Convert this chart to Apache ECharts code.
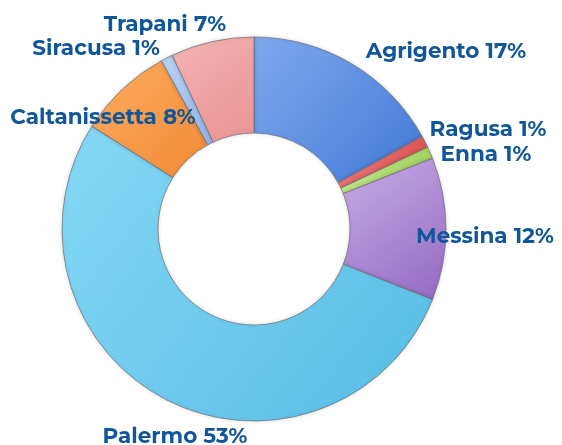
<!DOCTYPE html>
<html><head><meta charset="utf-8">
<script src="https://cdn.jsdelivr.net/npm/echarts@6/dist/echarts.min.js"></script>
<style>html,body{margin:0;padding:0;background:#fff}#c{width:562px;height:445px}</style>
</head><body><div id="c"></div>
<script>
const categories = ['Agrigento','Ragusa','Enna','Messina','Palermo','Caltanissetta','Siracusa','Trapani'];
const values = [17,1,1,12,53,8,1,7];
const colorsLight = ['#7ea9ef','#f07c7c','#c8eb94','#c8aee8','#86d8f7','#ffad62','#b9d3f6','#f5b3b3'];
const colorsDark  = ['#4279d6','#d84a4a','#9ccc55','#9368c2','#56bde4','#f08a34','#93b6ea','#e99494'];
const labelPos = [[446,52],[488,130],[486,155],[485,237],[175,437],[103,118],[96,49],[165,25]];

const chart = echarts.init(document.getElementById('c'), null, {renderer:'canvas'});
chart.setOption({
  animation:false,
  series:[{
    type:'pie',
    center:[254,229],
    radius:[96,192],
    startAngle:90,
    clockwise:true,
    label:{
      show:true,
      formatter: p => p.name + ' ' + p.value + '%',
      fontFamily:'Montserrat, "DejaVu Sans", sans-serif',
      fontWeight:'bold',
      fontSize:21.5,
      color:'#10569a',
      overflow:'none'
    },
    labelLine:{show:false},
    labelLayout: p => ({x: labelPos[p.dataIndex][0], y: labelPos[p.dataIndex][1], align:'center', verticalAlign:'middle'}),
    itemStyle:{borderColor:'rgba(110,110,120,0.7)', borderWidth:1, shadowBlur:4, shadowColor:'rgba(0,0,0,0.15)'},
    data: categories.map((c,i)=>({
      name:c, value:values[i],
      itemStyle:{color:new echarts.graphic.LinearGradient(0,0,1,1,[{offset:0,color:colorsLight[i]},{offset:1,color:colorsDark[i]}])}
    }))
  }]
});
</script></body></html>
